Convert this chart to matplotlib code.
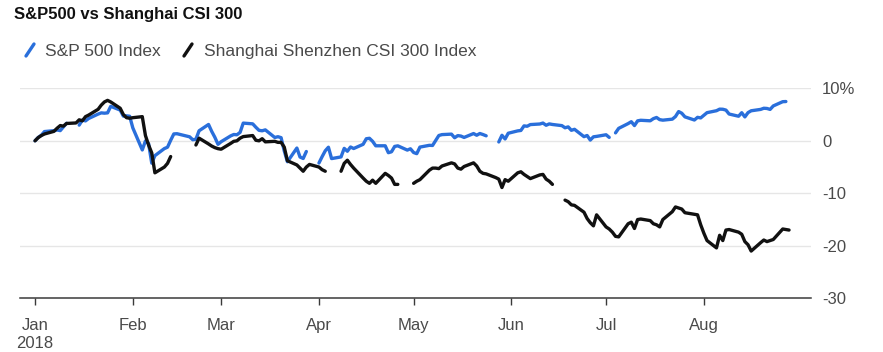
import numpy as np
import pandas as pd
import matplotlib
matplotlib.use("Agg")
import matplotlib.pyplot as plt
from matplotlib.lines import Line2D

nan = np.nan

# ---- data (% change since 2 Jan 2018), union of US and China trading days ----
dates = pd.bdate_range("2018-01-02", "2018-08-29")
dates = dates[dates != pd.Timestamp("2018-02-19")]

spx_jan = [0.00, 0.64, 1.05, 1.76, 1.93, 2.06, 1.94, 2.66, 3.35, nan, 2.99, 3.96, 3.79, 4.25,
           5.09, 5.32, 5.26, 5.32, 6.57, 5.85, 4.70, 4.75]
spx_feb = [4.68, 2.46, -1.74, -0.02, -0.52, -4.26, -2.83, -1.48, -1.22, 0.10, 1.31, 1.35,
           0.76, 0.20, 0.30, 1.91, 3.11, 1.80, 0.67]
spx_mar = [-0.67, -0.17, 0.93, 1.20, 1.15, 1.60, 3.37, 3.23, 2.58, 1.99, 1.91, 2.08, 0.63,
           0.78, 0.60, -1.93, -3.99, -1.38, -3.09, -3.37, -2.04, nan]
spx_apr = [-4.23, -3.02, -1.90, -1.22, -3.39, -3.07, -1.44, -1.99, -1.18, -1.47, -0.67, 0.39,
           0.48, -0.10, -0.95, -0.95, -2.27, -2.09, -1.07, -0.96, -1.77]
spx_may = [-1.52, -2.23, -2.45, -1.20, -0.86, -0.89, 0.07, 1.01, 1.18, 1.27, 0.58, 0.99, 0.90,
           0.64, 1.38, 1.06, 1.39, 1.19, 0.95, nan, -0.22, 1.05, 0.35]
spx_jun = [1.44, 1.89, 1.97, 2.84, 2.77, 3.09, 3.20, 3.38, 2.96, 3.22, 3.11, 2.89, 2.48, 2.65,
           2.00, 2.19, 0.79, 1.01, 0.14, 0.76, 0.84]
spx_jul = [1.15, 0.65, nan, 1.51, 2.37, 3.28, 3.64, 2.90, 3.80, 3.91, 3.81, 4.22, 4.44, 4.03,
           3.93, 4.12, 4.62, 5.57, 5.25, 4.56, 3.96, 4.47]
spx_aug = [4.36, 4.87, 5.36, 5.73, 6.03, 6.01, 5.85, 5.10, 4.68, 5.35, 4.55, 5.37, 5.72, 5.98,
           6.20, 6.16, 5.98, 6.64, 7.45, 7.48, nan]

csi_jan = [0.0, 0.6, 1.0, 1.3, 1.8, 2.4, 2.9, 2.8, 3.3, 3.4, 4.0, 3.8, 4.6, 4.9, 6.0, 6.8, 7.4,
           7.7, 7.4, 6.2, 5.0, 4.4]
csi_feb = [4.3, 4.4, 4.6, 1.0, -0.8, -2.3, -6.1, -5.0, -4.3, -3.0, nan, nan, nan, nan, -0.8,
           0.5, -0.6, -1.0, -1.3]
csi_mar = [-1.5, -1.6, -0.5, -0.1, 0.0, 0.5, 0.8, 1.0, 0.1, 0.0, 0.4, -0.2, -0.1, -0.3, -0.3,
           -1.2, -3.8, -4.6, -5.2, -5.8, -5.0, -4.5]
csi_apr = [-5.0, -5.5, -5.8, nan, nan, -5.8, -4.3, -3.7, -4.5, -5.2, -7.1, -7.7, -8.1, -7.5,
           -8.1, -6.2, -6.6, -7.1, -8.3, -8.3, nan]
csi_may = [nan, -8.1, -7.7, -7.4, -5.6, -5.2, -5.2, -5.3, -4.8, -4.2, -4.4, -5.2, -5.4, -4.9,
           -4.2, -4.8, -5.8, -6.2, -6.3, -7.0, -7.3, -8.9, -7.4]
csi_jun = [-7.7, -6.1, -5.9, -6.4, -6.8, -7.2, -6.5, -6.4, -7.3, -7.7, -8.3, nan, -11.3, -11.6,
           -12.2, -12.3, -13.6, -14.8, -15.6, -16.2, -14.1]
csi_jul = [-16.4, -16.8, -17.4, -18.2, -18.3, -15.8, -15.5, -16.7, -15.0, -14.9, -15.2, -15.8,
           -16.0, -16.4, -15.0, -13.5, -12.6, -12.8, -13.0, -13.7, -14.0, -14.1]
csi_aug = [-16.0, -17.6, -19.0, -20.4, -18.0, -19.0, -17.0, -16.9, -17.4, -17.8, -19.2, -19.8,
           -21.0, -19.4, -18.9, -19.2, -19.0, -18.8, -16.8, -16.9, -17.0]

spx = np.array(spx_jan + spx_feb + spx_mar + spx_apr + spx_may + spx_jun + spx_jul + spx_aug)
csi = np.array(csi_jan + csi_feb + csi_mar + csi_apr + csi_may + csi_jun + csi_jul + csi_aug)
assert len(spx) == len(dates) == len(csi)

month_labels = ["Jan\n2018", "Feb", "Mar", "Apr", "May", "Jun", "Jul", "Aug"]
y_ticks = [10, 0, -10, -20, -30]
y_labels = ["10%", "0", "-10", "-20", "-30"]
title = "S&P500 vs Shanghai CSI 300"
legend_labels = ["S&P 500 Index", "Shanghai Shenzhen CSI 300 Index"]

# ---- styling ----
BLUE = "#2a6fdb"
BLACK = "#111111"
TXT = "#4a4a4a"
FONT = "Liberation Sans"
W, H = 883, 352

fig = plt.figure(figsize=(W / 100, H / 100), dpi=100)
fig.patch.set_facecolor("white")
top, bot, left, right = 88.3, 298.3, 20, 811
ax = fig.add_axes([left / W, 1 - bot / H, (right - left) / W, (bot - top) / H])
ax.set_ylim(-30, 10)
t0 = pd.Timestamp("2018-01-01")
ax.set_xlim(t0 - pd.Timedelta(days=3.76), t0 + pd.Timedelta(days=246.96))

for v in y_ticks[:-1]:
    ax.axhline(v, color="#e6e6e6", lw=1.0, zorder=0)
ax.axhline(-30, color="#3a3a3a", lw=1.1, zorder=1, clip_on=False)
for s in ax.spines.values():
    s.set_visible(False)

ax.plot(dates, spx, color=BLUE, lw=2.4, solid_joinstyle="round", solid_capstyle="round",
        clip_on=False, zorder=3)
ax.plot(dates, csi, color=BLACK, lw=2.4, solid_joinstyle="round", solid_capstyle="round",
        clip_on=False, zorder=4)

month_pos = [t0 + pd.DateOffset(months=i) + pd.Timedelta(days=1) for i in range(8)]
ax.set_xticks(month_pos)
ax.set_xticklabels(month_labels, fontsize=12, color=TXT, family=FONT, ha="center",
                   linespacing=1.25)
ax.tick_params(axis="x", direction="out", length=5, width=1, color="#3a3a3a", pad=9)

ax.yaxis.tick_right()
ax.set_yticks(y_ticks)
ax.set_yticklabels(y_labels, fontsize=12, color=TXT, family=FONT)
ax.tick_params(axis="y", length=0, pad=8)

# title
fig.text(14 / W, 1 - 18.5 / H, title, fontsize=12, fontweight="bold", family=FONT,
         color="#111111", va="baseline", ha="left")

# legend
def slash(x, color):
    fig.add_artist(Line2D([x / W, (x + 8) / W], [1 - 56 / H, 1 - 44 / H],
                          color=color, lw=2.4, solid_capstyle="round"))

slash(26, BLUE)
fig.text(45 / W, 1 - 56 / H, legend_labels[0], fontsize=12.5, family=FONT, color=TXT,
         va="baseline", ha="left")
slash(184, BLACK)
fig.text(204 / W, 1 - 56 / H, legend_labels[1], fontsize=12.5, family=FONT, color=TXT,
         va="baseline", ha="left")

fig.savefig("out.png", dpi=100, facecolor="white")
